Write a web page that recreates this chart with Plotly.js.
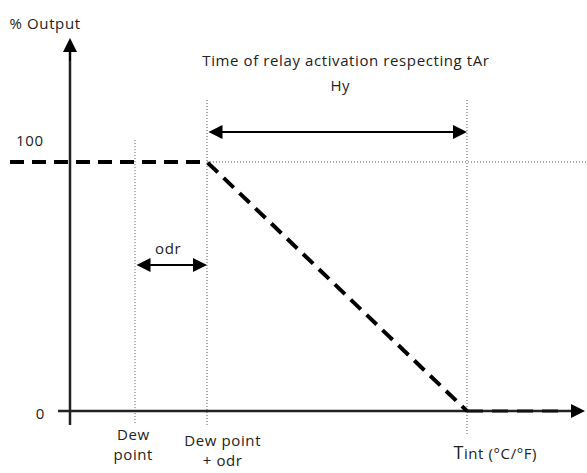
<!DOCTYPE html>
<html>
<head>
<meta charset="utf-8">
<script src="https://cdn.plot.ly/plotly-3.0.1.min.js"></script>
<style>html,body{margin:0;padding:0;background:#fff;}#chart{width:587px;height:473px;}
#chart .annotation-text{letter-spacing:0.6px;}</style>
</head>
<body>
<div id="chart"></div>
<script>
// Key positions on the temperature axis (diagram units)
const axisX = 70;
const dewPointX = 135;
const dewOdrX = 207;
const tIntX = 467;
// Output levels (%)
const outputLevels = [0, 100];
const levelLabels = ["0", "100"];
// Output curve
const curveX = [10, dewOdrX, tIntX];
const curveY = [100, 100, 0];
const tailX = [tIntX, 562];
const tailY = [0, 0];
// Text labels
const yTitle = "% Output";
const topNote = "Time of relay activation respecting tAr";
const hyLabel = "Hy";
const odrLabel = "odr";
const xLabels = ["Dew<br>point", "Dew point<br>+ odr", '<span style="font-size:18px">T</span>int (°C/°F)'];

const FONT = "Open Sans, Noto Sans, sans-serif";
const TXT = "#222";
const FS = 15;
const dotStyle = {color: "#555", width: 1, dash: "1px,2px"};

const traces = [
  // dotted guide lines
  {x: [dewPointX, dewPointX], y: [108.8, -5.6], mode: "lines", line: dotStyle},
  {x: [dewOdrX, dewOdrX], y: [124.9, -5.6], mode: "lines", line: dotStyle},
  {x: [tIntX, tIntX], y: [124.9, -9.6], mode: "lines", line: dotStyle},
  {x: [dewOdrX, 587], y: [100, 100], mode: "lines", line: dotStyle},
  // axes lines
  {x: [58, 578], y: [0, 0], mode: "lines", line: {color: "#222", width: 2.5}},
  {x: [axisX, axisX], y: [-5.6, 145], mode: "lines", line: {color: "#222", width: 2.5}},
  // output curve
  {x: curveX, y: curveY, mode: "lines", line: {color: "#000", width: 4, dash: "14px,8px"}},
  {x: tailX, y: tailY, mode: "lines", line: {color: "#111", width: 3, dash: "16px,9px"}}
];

function txt(x, y, text, size, extra) {
  return Object.assign({x: x, y: y, xref: "x", yref: "y", text: text, showarrow: false,
    font: {family: FONT, size: size || FS, color: TXT}}, extra || {});
}
function arrow(x, y, ax, ay, side) {
  return {x: x, y: y, ax: ax, ay: ay, xref: "x", yref: "y", axref: "x", ayref: "y",
    text: "", showarrow: true, arrowhead: 2, arrowsize: 1.4, arrowwidth: 2,
    arrowcolor: "#000", arrowside: side || "end"};
}

const annotations = [
  txt(45, 155.8, yTitle),
  txt(346, 140.96, topNote),
  txt(340, 130.9, hyLabel),
  txt(30, 108.8, levelLabels[1]),
  txt(40, -0.8, levelLabels[0]),
  txt(168, 65.46, odrLabel),
  txt(133, -13.25, xLabels[0]),
  txt(222, -15.66, xLabels[1]),
  txt(495, -16.47, xLabels[2]),
  arrow(axisX, 149.8, axisX, 140),
  arrow(585, 0, 570, 0),
  arrow(tIntX, 112.05, dewOdrX, 112.05, "end+start"),
  arrow(dewOdrX, 58.63, dewPointX, 58.63, "end+start")
];

const layout = {
  width: 587, height: 473,
  margin: {l: 0, r: 0, t: 0, b: 0},
  paper_bgcolor: "#fff", plot_bgcolor: "#fff",
  showlegend: false,
  xaxis: {range: [0, 587], visible: false, fixedrange: true},
  yaxis: {range: [-24.9, 165.06], visible: false, fixedrange: true},
  annotations: annotations
};

Plotly.newPlot("chart", traces.map(t => Object.assign({hoverinfo: "skip", cliponaxis: false}, t)), layout, {displayModeBar: false, staticPlot: true});
</script>
</body>
</html>
